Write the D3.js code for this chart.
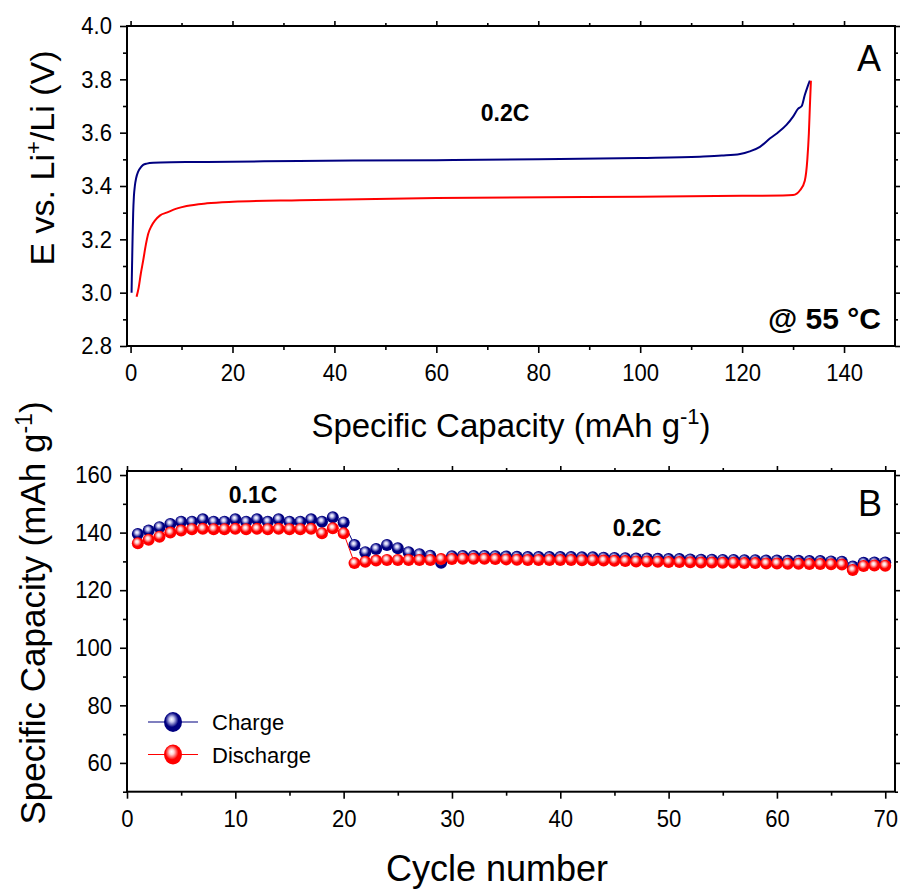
<!DOCTYPE html>
<html>
<head>
<meta charset="utf-8">
<script src="https://cdn.jsdelivr.net/npm/d3@7/dist/d3.min.js"></script>
<style>
  html, body { margin: 0; padding: 0; background: #fff; }
  svg { display: block; }
  text { font-family: "Liberation Sans", Arial, sans-serif; fill: #000; }
</style>
</head>
<body>
<svg id="chart" width="901" height="890"></svg>
<script>
// ---------- Data: panel A (voltage profiles at 0.2C) ----------
const chargeCap = [0.2, 0.25, 0.31, 0.4, 0.51, 0.65, 0.84, 1.1, 1.49, 2.0, 2.47, 3.2, 4.44, 8, 15, 33, 60, 80, 100, 111.7, 116, 119.6, 121.5, 123.5, 125.5, 127, 128.7, 130, 131, 131.7, 132.3, 132.8, 133.3];
const chargeV   = [3.0, 3.06, 3.12, 3.21, 3.298, 3.36, 3.40, 3.43, 3.454, 3.47, 3.479, 3.484, 3.487, 3.489, 3.49, 3.494, 3.497, 3.500, 3.505, 3.51, 3.514, 3.52, 3.53, 3.547, 3.579, 3.60, 3.629, 3.66, 3.69, 3.70, 3.741, 3.77, 3.795];
const dischargeCap = [1.18, 1.6, 2.0, 2.47, 3.0, 3.45, 4.1, 4.77, 5.8, 7.07, 9, 11, 15, 20.1, 33.2, 60, 100, 120, 128, 130, 131.4, 132.3, 132.8, 133.1, 133.3, 133.5];
const dischargeV   = [2.985, 3.02, 3.07, 3.12, 3.18, 3.22, 3.25, 3.27, 3.29, 3.30, 3.315, 3.325, 3.335, 3.341, 3.347, 3.355, 3.360, 3.363, 3.364, 3.366, 3.385, 3.42, 3.5, 3.598, 3.70, 3.795];

const topXTicks = [0, 20, 40, 60, 80, 100, 120, 140];
const topYTicks = [2.8, 3.0, 3.2, 3.4, 3.6, 3.8, 4.0];

// ---------- Data: panel B (cycling) ----------
const cycles = d3.range(1, 71);
const chargeCapacity = [
  139.5, 140.7, 141.9, 143.0, 143.8, 143.8, 144.6, 143.8, 143.8, 144.6,
  143.8, 144.6, 143.8, 144.6, 143.8, 143.8, 144.6, 143.8, 145.3, 143.5,
  135.7, 133.2, 134.3, 135.7, 134.6, 133.2, 132.5, 132.0, 129.5, 131.8,
  131.9, 131.9, 131.9, 131.8, 131.7, 131.6, 131.5, 131.5, 131.5, 131.5,
  131.5, 131.4, 131.4, 131.3, 131.2, 131.1, 131.0, 131.0, 130.9, 130.8,
  130.8, 130.7, 130.6, 130.6, 130.5, 130.5, 130.4, 130.4, 130.3, 130.3,
  130.2, 130.2, 130.1, 130.1, 130.0, 129.9, 128.2, 129.5, 129.6, 129.6
];
const dischargeCapacity = [
  136.3, 137.5, 138.6, 140.0, 140.7, 141.2, 141.3, 141.2, 141.2, 141.3,
  141.2, 141.3, 141.2, 141.3, 141.2, 141.2, 141.3, 139.8, 141.5, 139.8,
  129.4, 129.9, 130.3, 130.5, 130.5, 130.5, 130.5, 130.5, 130.8, 130.8,
  130.9, 130.9, 130.9, 130.8, 130.7, 130.6, 130.5, 130.5, 130.5, 130.5,
  130.5, 130.4, 130.4, 130.3, 130.2, 130.1, 130.0, 130.0, 129.9, 129.8,
  129.8, 129.7, 129.6, 129.6, 129.5, 129.5, 129.4, 129.4, 129.3, 129.3,
  129.2, 129.2, 129.1, 129.1, 129.0, 128.9, 127.0, 128.4, 128.6, 128.5
];
const botXTicks = [0, 10, 20, 30, 40, 50, 60, 70];
const botYTicks = [60, 80, 100, 120, 140, 160];
const seriesNames = ["Charge", "Discharge"];
const seriesColors = ["#000080", "#ff0000"];

// ---------- Drawing ----------
const svg = d3.select("#chart");
const defs = svg.append("defs");
[["gradCharge", "#000080", "#c8c8f0"], ["gradDischarge", "#ff0000", "#ffd0d0"]].forEach(([id, c, hi]) => {
  const g = defs.append("radialGradient").attr("id", id)
    .attr("cx", "0.45").attr("cy", "0.42").attr("r", "0.6").attr("fx", "0.42").attr("fy", "0.36");
  g.append("stop").attr("offset", "0").attr("stop-color", "#ffffff");
  g.append("stop").attr("offset", "0.22").attr("stop-color", hi);
  g.append("stop").attr("offset", "0.6").attr("stop-color", c);
  g.append("stop").attr("offset", "1").attr("stop-color", c);
});

const SX = 0.92; // slight horizontal condensation of tick labels
function frame(x, y, xMaj, xMin, yMaj, yMin, xFmt, yFmt, xPad, yPad) {
  const [x0, x1] = x.range();
  const [y0, y1] = y.range(); // y0 bottom, y1 top
  const g = svg.append("g");
  const style = sel => {
    sel.select(".domain").remove();
    sel.selectAll("line").attr("stroke", "#000").attr("stroke-width", 1.6);
    sel.selectAll("text").attr("font-size", 24).attr("font-family", '"Liberation Sans", Arial, sans-serif')
      .each(function () {
        const t = d3.select(this);
        const xv = +t.attr("x") || 0;
        t.attr("x", xv / SX).attr("transform", `scale(${SX},1)`);
      });
  };
  // bottom
  g.append("g").attr("transform", `translate(0,${y0})`)
    .call(d3.axisBottom(x).tickValues(xMaj).tickFormat(xFmt).tickSize(7).tickPadding(xPad)).call(style);
  g.append("g").attr("transform", `translate(0,${y0})`)
    .call(d3.axisBottom(x).tickValues(xMin).tickFormat("").tickSize(4)).call(style);
  // top
  g.append("g").attr("transform", `translate(0,${y1})`)
    .call(d3.axisTop(x).tickValues(xMaj).tickFormat("").tickSize(5)).call(style);
  g.append("g").attr("transform", `translate(0,${y1})`)
    .call(d3.axisTop(x).tickValues(xMin).tickFormat("").tickSize(3)).call(style);
  // left
  g.append("g").attr("transform", `translate(${x0},0)`)
    .call(d3.axisLeft(y).tickValues(yMaj).tickFormat(yFmt).tickSize(7).tickPadding(yPad)).call(style);
  g.append("g").attr("transform", `translate(${x0},0)`)
    .call(d3.axisLeft(y).tickValues(yMin).tickFormat("").tickSize(4)).call(style);
  // right
  g.append("g").attr("transform", `translate(${x1},0)`)
    .call(d3.axisRight(y).tickValues(yMaj).tickFormat("").tickSize(5)).call(style);
  g.append("g").attr("transform", `translate(${x1},0)`)
    .call(d3.axisRight(y).tickValues(yMin).tickFormat("").tickSize(3)).call(style);
  g.append("rect").attr("x", x0).attr("y", y1).attr("width", x1 - x0).attr("height", y0 - y1)
    .attr("fill", "none").attr("stroke", "#000").attr("stroke-width", 2);
  return g;
}

// ===== Panel A =====
const xA = d3.scaleLinear().domain([-0.7, 150]).range([127, 895]);
const yA = d3.scaleLinear().domain([2.8, 4.0]).range([346, 26]);
const xAMinor = d3.range(10, 150, 20);
const yAMinor = [2.9, 3.1, 3.3, 3.5, 3.7, 3.9];
frame(xA, yA, topXTicks, xAMinor, topYTicks, yAMinor, d3.format("d"), d3.format(".1f"), 11, 8);

const lineA = d3.line().x(d => xA(d[0])).y(d => yA(d[1])).curve(d3.curveMonotoneX);
svg.append("path").datum(chargeCap.map((c, i) => [c, chargeV[i]]))
  .attr("d", lineA).attr("fill", "none").attr("stroke", seriesColors[0]).attr("stroke-width", 2);
svg.append("path").datum(dischargeCap.map((c, i) => [c, dischargeV[i]]))
  .attr("d", lineA).attr("fill", "none").attr("stroke", seriesColors[1]).attr("stroke-width", 2);

svg.append("text").attr("x", 505).attr("y", 121).attr("text-anchor", "middle")
  .attr("font-size", 23).attr("font-weight", "bold").text("0.2C");
svg.append("text").attr("x", 881).attr("y", 71).attr("text-anchor", "end")
  .attr("font-size", 36).text("A");
svg.append("text").attr("x", 881).attr("y", 329).attr("text-anchor", "end")
  .attr("font-size", 30).attr("font-weight", "bold").text("@ 55 °C");

// axis titles A
const tA = svg.append("text").attr("transform", "translate(54,158) rotate(-90)")
  .attr("text-anchor", "middle").attr("font-size", 34);
tA.append("tspan").text("E vs. Li");
tA.append("tspan").attr("dy", -13).attr("font-size", 22).text("+");
tA.append("tspan").attr("dy", 13).text("/Li (V)");

const txA = svg.append("text").attr("x", 511).attr("y", 437).attr("text-anchor", "middle").attr("font-size", 33);
txA.append("tspan").text("Specific Capacity (mAh g");
txA.append("tspan").attr("dy", -13).attr("font-size", 22).text("-1");
txA.append("tspan").attr("dy", 13).text(")");

// ===== Panel B =====
const xB = d3.scaleLinear().domain([0, 70.9]).range([127, 895]);
const yB = d3.scaleLinear().domain([50, 161.4]).range([791.7, 471]);
const xBMinor = d3.range(5, 71, 10);
const yBMinor = [50, 70, 90, 110, 130, 150];
frame(xB, yB, botXTicks, xBMinor, botYTicks, yBMinor, d3.format("d"), d3.format("d"), 11, 8);

const seriesB = [chargeCapacity, dischargeCapacity];
const gradIds = ["gradCharge", "gradDischarge"];
const lineB = d3.line().x((d, i) => xB(cycles[i])).y(d => yB(d));
seriesB.forEach((vals, s) => {
  svg.append("path").datum(vals).attr("d", lineB).attr("fill", "none")
    .attr("stroke", seriesColors[s]).attr("stroke-width", 1);
});
seriesB.forEach((vals, s) => {
  svg.append("g").selectAll("circle").data(vals).join("circle")
    .attr("cx", (d, i) => xB(cycles[i])).attr("cy", d => yB(d)).attr("r", 6)
    .attr("fill", `url(#${gradIds[s]})`);
});

svg.append("text").attr("x", 253).attr("y", 503).attr("text-anchor", "middle")
  .attr("font-size", 23).attr("font-weight", "bold").text("0.1C");
svg.append("text").attr("x", 637).attr("y", 536).attr("text-anchor", "middle")
  .attr("font-size", 23).attr("font-weight", "bold").text("0.2C");
svg.append("text").attr("x", 882).attr("y", 516).attr("text-anchor", "end")
  .attr("font-size", 36).text("B");

// legend
seriesNames.forEach((name, s) => {
  const ly = 722 + s * 32.5;
  svg.append("line").attr("x1", 148).attr("x2", 198).attr("y1", ly).attr("y2", ly)
    .attr("stroke", seriesColors[s]).attr("stroke-width", 1.2);
  svg.append("ellipse").attr("cx", 173).attr("cy", ly).attr("rx", 9).attr("ry", 10)
    .attr("fill", `url(#${gradIds[s]})`);
  svg.append("text").attr("x", 212).attr("y", ly + 8).attr("font-size", 22).text(name);
});

// axis titles B
const tB = svg.append("text").attr("transform", "translate(45,613) rotate(-90)")
  .attr("text-anchor", "middle").attr("font-size", 35);
tB.append("tspan").text("Specific Capacity (mAh g");
tB.append("tspan").attr("dy", -13).attr("font-size", 23).text("-1");
tB.append("tspan").attr("dy", 13).text(")");

svg.append("text").attr("x", 497).attr("y", 881).attr("text-anchor", "middle")
  .attr("font-size", 36).text("Cycle number");
</script>
</body>
</html>
